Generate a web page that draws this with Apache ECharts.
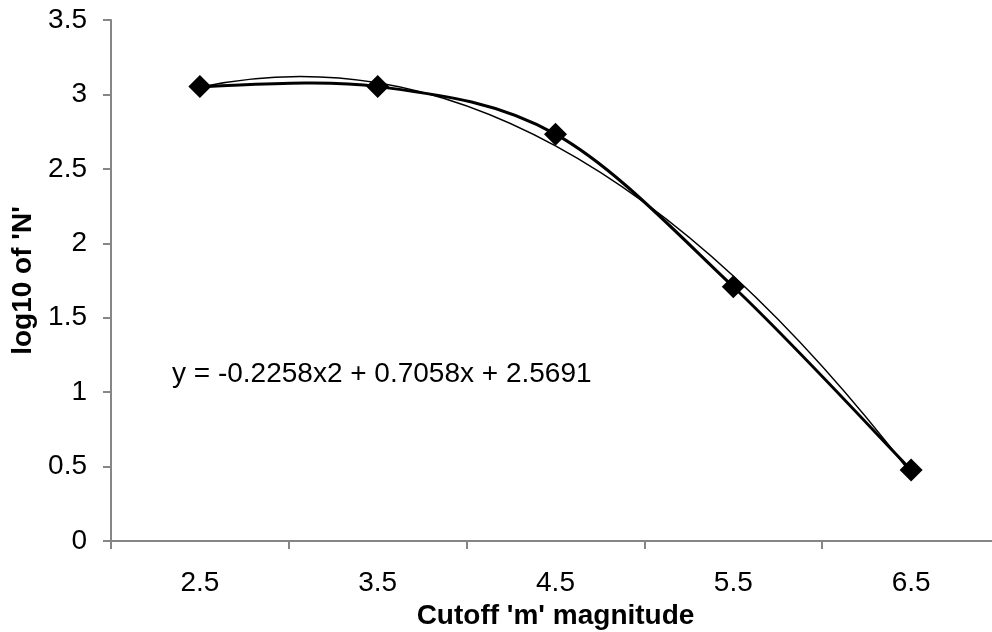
<!DOCTYPE html>
<html>
<head>
<meta charset="utf-8">
<script src="https://cdn.jsdelivr.net/npm/echarts@6/dist/echarts.min.js"></script>
<style>
html,body{margin:0;padding:0;background:#fff;}
#chart{width:992px;height:632px;}
</style>
</head>
<body>
<div id="chart"></div>
<script>
var categories = ['2.5', '3.5', '4.5', '5.5', '6.5'];
var logN = [3.053, 3.053, 2.733, 1.708, 0.477];
var trendValues = [3.049, 3.078, 2.654, 1.780, 0.453];
var equationText = "y = -0.2258x2 + 0.7058x + 2.5691";
var xTitle = "Cutoff 'm' magnitude";
var yTitle = "log10 of 'N'";

var FONT = "'Liberation Sans', Arial, sans-serif";

// Smooth (Catmull-Rom style) curve drawn segment by segment through points
// located by the library's own axes (api.coord).
function smoothSegmentRenderer(values, width, parabolicEnds) {
  return function (params, api) {
    var i = params.dataIndex;
    var n = values.length;
    if (i >= n - 1) return null;
    function pt(k) { return api.coord([k, values[k]]); }
    var p0 = pt(i), p1 = pt(i + 1);
    function tangent(k) {
      if (k > 0 && k < n - 1) {
        var a = pt(k - 1), b = pt(k + 1);
        return [(b[0] - a[0]) / 2, (b[1] - a[1]) / 2];
      }
      if (k === 0) {
        var q0 = pt(0), q1 = pt(1), q2 = pt(2);
        if (parabolicEnds) return [(-3 * q0[0] + 4 * q1[0] - q2[0]) / 2, (-3 * q0[1] + 4 * q1[1] - q2[1]) / 2];
        return [(q1[0] - q0[0]) / 2, (q1[1] - q0[1]) / 2];
      }
      var r0 = pt(n - 1), r1 = pt(n - 2), r2 = pt(n - 3);
      if (parabolicEnds) return [(3 * r0[0] - 4 * r1[0] + r2[0]) / 2, (3 * r0[1] - 4 * r1[1] + r2[1]) / 2];
      return [(r0[0] - r1[0]) / 2, (r0[1] - r1[1]) / 2];
    }
    var tan0 = tangent(i);
    var tan1 = tangent(i + 1);
    return {
      type: 'bezierCurve',
      shape: {
        x1: p0[0], y1: p0[1],
        x2: p1[0], y2: p1[1],
        cpx1: p0[0] + tan0[0] / 3, cpy1: p0[1] + tan0[1] / 3,
        cpx2: p1[0] - tan1[0] / 3, cpy2: p1[1] - tan1[1] / 3
      },
      style: {stroke: '#000', lineWidth: width, fill: null}
    };
  };
}

function pairs(vals) { return vals.map(function (v, k) { return [k, v]; }); }

var chart = echarts.init(document.getElementById('chart'), null, {renderer: 'canvas'});
chart.setOption({
  animation: false,
  backgroundColor: '#fff',
  grid: {left: 111, width: 889, top: 20, bottom: 91, containLabel: false, outerBoundsMode: 'none'},
  xAxis: {
    type: 'category',
    data: categories,
    boundaryGap: true,
    name: xTitle,
    nameLocation: 'middle',
    nameGap: 60,
    nameTextStyle: {fontFamily: FONT, fontSize: 28, fontWeight: 'bold', color: '#000'},
    axisLine: {lineStyle: {color: '#868686', width: 2}},
    axisTick: {show: true, length: 8, lineStyle: {color: '#868686', width: 2}},
    axisLabel: {fontFamily: FONT, fontSize: 28, color: '#000', margin: 28},
    splitLine: {show: false}
  },
  yAxis: {
    type: 'value',
    min: 0, max: 3.5, interval: 0.5,
    name: yTitle,
    nameLocation: 'middle',
    nameGap: 70,
    nameRotate: 90,
    nameTextStyle: {fontFamily: FONT, fontSize: 28, fontWeight: 'bold', color: '#000'},
    axisLine: {show: true, lineStyle: {color: '#868686', width: 2}},
    axisTick: {show: true, length: 8, lineStyle: {color: '#868686', width: 2}},
    axisLabel: {fontFamily: FONT, fontSize: 28, color: '#000', margin: 24},
    splitLine: {show: false}
  },
  series: [
    {
      type: 'custom',
      name: 'trend',
      data: pairs(trendValues),
      encode: {x: 0, y: 1},
      renderItem: smoothSegmentRenderer(trendValues, 1.5, true),
      z: 2
    },
    {
      type: 'custom',
      name: 'logN-line',
      data: pairs(logN),
      encode: {x: 0, y: 1},
      renderItem: smoothSegmentRenderer(logN, 3, false),
      z: 3
    },
    {
      type: 'scatter',
      name: 'logN',
      data: pairs(logN),
      symbol: 'diamond',
      symbolSize: 23,
      itemStyle: {color: '#000', opacity: 1},
      z: 4
    }
  ],
  graphic: [
    {
      type: 'text',
      left: 172,
      top: 360,
      style: {text: equationText, font: '28px ' + FONT, fill: '#000'}
    }
  ]
});
</script>
</body>
</html>
